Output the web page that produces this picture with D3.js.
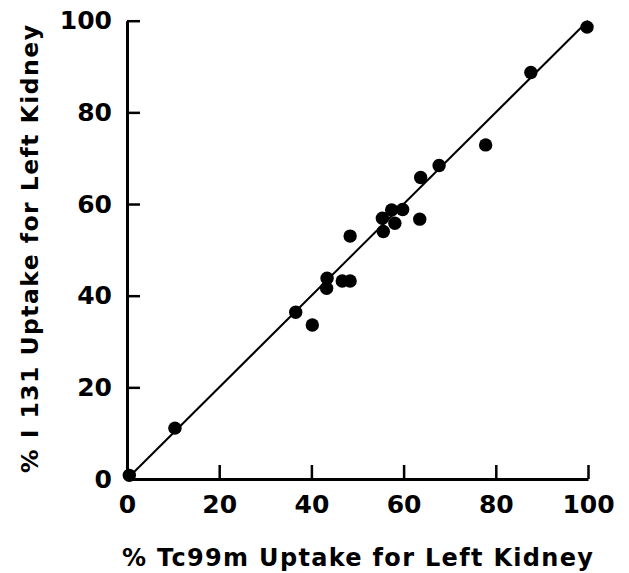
<!DOCTYPE html>
<html>
<head>
<meta charset="utf-8">
<script src="https://cdn.jsdelivr.net/npm/d3@7"></script>
<style>
  html, body { margin: 0; padding: 0; background: #fff; }
  svg { display: block; }
  text { font-family: "DejaVu Sans", "Liberation Sans", Arial, sans-serif; font-weight: bold; fill: #000; }
</style>
</head>
<body>
<svg id="chart" width="629" height="573"></svg>
<script>
// Data
const tcUptake  = [0.5, 10.4, 36.6, 40.2, 43.4, 43.3, 46.7, 48.4, 48.4, 55.6, 55.4, 57.4, 58.1, 59.8, 63.5, 63.7, 67.7, 77.8, 87.6, 99.8];
const iUptake   = [0.8, 11.1, 36.4, 33.6, 43.8, 41.6, 43.2, 43.2, 53.0, 54.0, 56.9, 58.7, 55.8, 58.8, 56.7, 65.8, 68.4, 72.9, 88.7, 98.6];
const tickValues = [0, 20, 40, 60, 80, 100];
const fitLine = [[0, 0], [100, 100]];
const xTitle = "% Tc99m Uptake for Left Kidney";
const yTitle = "% I 131 Uptake for Left Kidney";

const svg = d3.select("#chart");
const mLeft = 127, mRight = 588, mTop = 20.7, mBottom = 479;

const x = d3.scaleLinear().domain([0, 100]).range([mLeft, mRight]);
const y = d3.scaleLinear().domain([0, 100]).range([mBottom, mTop]);

// Axes
const yAxis = d3.axisLeft(y).tickValues(tickValues).tickFormat(d3.format("d"))
  .tickSizeInner(-13).tickSizeOuter(0).tickPadding(15);
const xAxis = d3.axisBottom(x).tickValues(tickValues).tickFormat(d3.format("d"))
  .tickSizeInner(-14).tickSizeOuter(0).tickPadding(16);

const gy = svg.append("g").attr("transform", `translate(${mLeft},0)`).call(yAxis);
const gx = svg.append("g").attr("transform", `translate(0,${mBottom})`).call(xAxis);

[gx, gy].forEach(g => {
  g.select(".domain").attr("stroke", "#000").attr("stroke-width", 3);
  g.selectAll(".tick line").attr("stroke", "#000").attr("stroke-width", 2.5);
  g.selectAll(".tick text")
    .style("font-size", "25px")
    .attr("fill", "#000");
});

// Identity line
svg.append("path")
  .datum(fitLine)
  .attr("d", d3.line().x(d => x(d[0])).y(d => y(d[1])))
  .attr("stroke", "#000")
  .attr("stroke-width", 2)
  .attr("fill", "none");

// Points
svg.append("g").selectAll("circle")
  .data(tcUptake.map((v, i) => [v, iUptake[i]]))
  .join("circle")
  .attr("cx", d => x(d[0]))
  .attr("cy", d => y(d[1]))
  .attr("r", 6.7)
  .attr("fill", "#000");

// Axis titles
svg.append("text")
  .attr("x", 357.5)
  .attr("y", 566)
  .attr("text-anchor", "middle")
  .attr("textLength", 471)
  .attr("lengthAdjust", "spacing")
  .style("font-size", "24px")
  .text(xTitle);

svg.append("text")
  .attr("transform", "translate(37.5,249) rotate(-90)")
  .attr("text-anchor", "middle")
  .attr("textLength", 448)
  .attr("lengthAdjust", "spacing")
  .style("font-size", "23.5px")
  .text(yTitle);
</script>
</body>
</html>
